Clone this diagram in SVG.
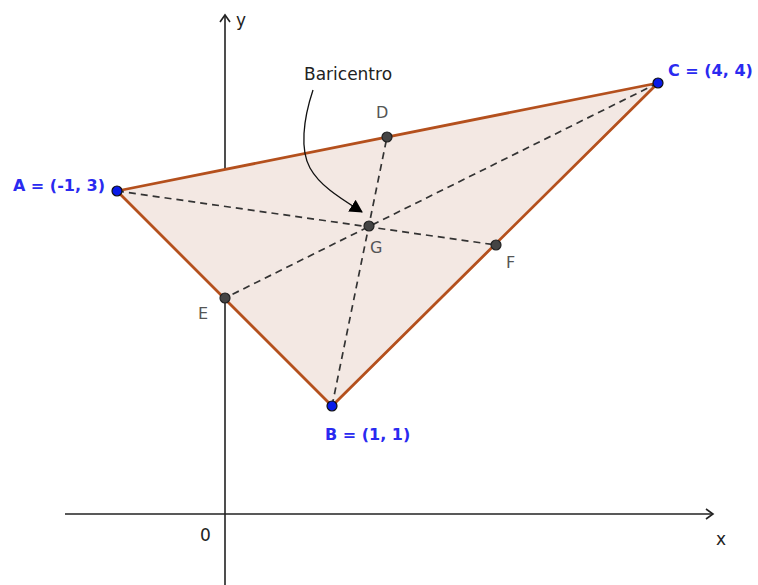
<svg xmlns="http://www.w3.org/2000/svg" width="758" height="585" viewBox="0 0 758 585">
<defs>
<marker id="ax" markerWidth="12" markerHeight="12" refX="9" refY="6" orient="auto" markerUnits="userSpaceOnUse">
<path d="M2,1 L9,6 L2,11" fill="none" stroke="#222" stroke-width="1.6"/>
</marker>
<marker id="ah" markerWidth="16" markerHeight="16" refX="12" refY="8" orient="auto" markerUnits="userSpaceOnUse">
<path d="M0,1 L13,8 L0,15 Z" fill="#000"/>
</marker>
</defs>
<style>
.axis{stroke:#222;stroke-width:1.6;fill:none}
.tri{fill:#f3e8e3;stroke:#b4501d;stroke-width:2.8;stroke-linejoin:round}
.med{stroke:#333;stroke-width:1.7;stroke-dasharray:7 5;fill:none}
.vert{fill:#0a1be8;stroke:#111;stroke-width:1.2}
.mid{fill:#444;stroke:#222;stroke-width:1.2}
.vl{font-family:"DejaVu Sans","Liberation Sans",sans-serif;font-weight:bold;font-size:16px;fill:#2a2af0}
.pl{font-family:"DejaVu Sans","Liberation Sans",sans-serif;font-size:16px;fill:#555}
.al{font-family:"DejaVu Sans","Liberation Sans",sans-serif;font-size:17px;fill:#222}
</style>
<rect width="758" height="585" fill="#fff"/>
<g id="axes">
<line class="axis" x1="65" y1="514" x2="713" y2="514" marker-end="url(#ax)"/>
<line class="axis" x1="225" y1="585" x2="225" y2="15" marker-end="url(#ax)"/>
<text class="al" x="716" y="545">x</text>
<text class="al" x="236" y="26">y</text>
<text class="al" x="200" y="541">0</text>
</g>
<g id="triangle">
<polygon class="tri" points="117,191 332,406 658,83"/>
</g>
<g id="connectors">
<line class="med" x1="117" y1="191" x2="496" y2="245"/>
<line class="med" x1="658" y1="83" x2="225" y2="298"/>
<line class="med" x1="332" y1="406" x2="387" y2="137"/>
<path d="M313,90 C303,120 300,150 310,168 C320,186 340,198 362,212" fill="none" stroke="#111" stroke-width="1.3" marker-end="url(#ah)"/>
</g>
<g id="node-A"><circle class="vert" cx="117" cy="191" r="5"/><text class="vl" x="105" y="191" text-anchor="end">A = (-1, 3)</text></g>
<g id="node-B"><circle class="vert" cx="332" cy="406" r="5"/><text class="vl" x="325" y="440">B = (1, 1)</text></g>
<g id="node-C"><circle class="vert" cx="658" cy="83" r="5"/><text class="vl" x="668" y="76">C = (4, 4)</text></g>
<g id="node-D"><circle class="mid" cx="387" cy="137" r="5"/><text class="pl" x="376" y="118">D</text></g>
<g id="node-E"><circle class="mid" cx="225" cy="298" r="5"/><text class="pl" x="198" y="319">E</text></g>
<g id="node-F"><circle class="mid" cx="496" cy="245" r="5"/><text class="pl" x="506" y="268">F</text></g>
<g id="node-G"><circle class="mid" cx="369" cy="226" r="5"/><text class="pl" x="370" y="253">G</text></g>
<g id="label-baricentro"><text class="al" x="304" y="80">Baricentro</text></g>
</svg>
